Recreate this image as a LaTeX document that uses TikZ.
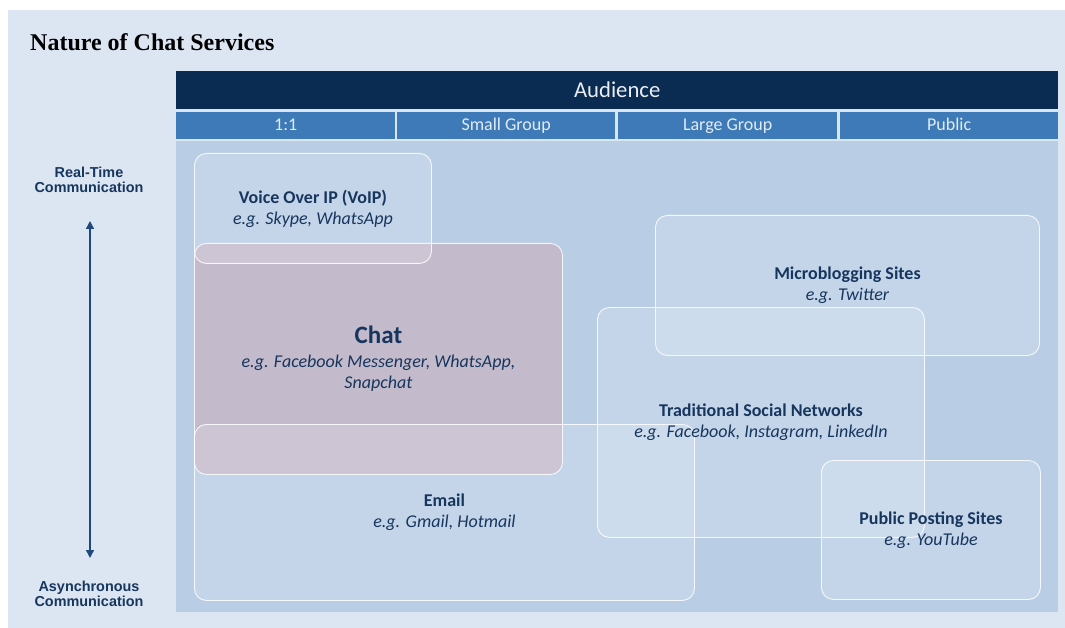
\documentclass[tikz,border=0pt]{standalone}
\usepackage{fontspec}
\setmainfont{Carlito}
\newfontfamily\titlefont{Liberation Serif}
\newfontfamily\axisfont{Liberation Sans}
\usetikzlibrary{arrows.meta}

\definecolor{pagebg}{HTML}{DCE6F2}
\definecolor{navy}{HTML}{0A2B52}
\definecolor{colhead}{HTML}{3E7AB7}
\definecolor{areabg}{HTML}{B9CDE5}
\definecolor{chatfill}{HTML}{C3BACB}
\definecolor{textnavy}{HTML}{17365D}
\definecolor{arrownavy}{HTML}{1F497D}

\begin{document}
\begin{tikzpicture}[x=1pt,y=-1pt,
  service/.style={draw=white, line width=0.9pt, draw opacity=0.85, rounded corners=12pt,
    fill=white, fill opacity=0.17, text opacity=1, inner sep=0pt, anchor=north west,
    align=center, text=textnavy, font=\fontsize{18}{21}\selectfont},
  colcell/.style={fill=colhead, minimum height=27pt, inner sep=0pt, anchor=north west,
    text height=13pt, text depth=3pt, text=white!85!colhead, font=\fontsize{18}{20}\selectfont},
  axislabel/.style={align=center, text=textnavy, font=\axisfont\bfseries\fontsize{14.4}{15}\selectfont}]

\useasboundingbox (0,0) rectangle (1065,628);
\fill[pagebg] (8,10) rectangle (1065,628);

\node[anchor=west, inner sep=0pt, font=\titlefont\bfseries\fontsize{24}{28}\selectfont] (title) at (30,42) {Nature of Chat Services};

% audience header
\node[fill=navy, anchor=north west, minimum width=882pt, minimum height=38pt, inner sep=0pt,
  text=white!92!navy, font=\fontsize{22.7}{24}\selectfont] (audience) at (176,71) {Audience};
\node[colcell, minimum width=219pt] (oneone) at (176,112) {1:1};
\node[colcell, minimum width=218pt] (small) at (397,112) {Small Group};
\node[colcell, minimum width=219pt] (large) at (618,112) {Large Group};
\node[colcell, minimum width=218pt] (public) at (840,112) {Public};

\node[fill=areabg, anchor=north west, minimum width=882pt, minimum height=471pt, inner sep=0pt] (area) at (176,141) {};

% services
\node[service, fill=chatfill, fill opacity=1, minimum width=368pt, minimum height=231pt] (chat) at (194,243)
  {{\fontsize{25}{27}\selectfont\bfseries Chat}\\[3pt] {\itshape e.g. Facebook Messenger, WhatsApp,}\\ {\itshape Snapchat}};
\node[service, minimum width=237pt, minimum height=110pt] (voip) at (194,153)
  {{\bfseries Voice Over IP (VoIP)}\\ {\itshape e.g. Skype, WhatsApp}};
\node[service, minimum width=500pt, minimum height=176pt] (email) at (194,424)
  {{\bfseries Email}\\ {\itshape e.g. Gmail, Hotmail}};
\node[service, minimum width=384pt, minimum height=140pt] (micro) at (655,215)
  {{\bfseries Microblogging Sites}\\ {\itshape e.g. Twitter}};
\node[service, minimum width=327pt, minimum height=230pt] (social) at (597,307)
  {{\bfseries Traditional Social Networks}\\ {\itshape e.g. Facebook, Instagram, LinkedIn}};
\node[service, minimum width=219pt, minimum height=139pt] (posting) at (821,460)
  {{\bfseries Public Posting Sites}\\ {\itshape e.g. YouTube}};

% time axis
\node[axislabel] (realtime) at (89,180) {Real-Time\\Communication};
\node[axislabel] (async) at (89,594) {Asynchronous\\Communication};
\coordinate (axtop) at (90,221);
\coordinate (axbot) at (90,558);
\draw[arrownavy, line width=1.4pt, {Triangle[length=8pt,width=8pt]}-{Triangle[length=8pt,width=8pt]}] (axtop) -- (axbot);
\end{tikzpicture}
\end{document}
